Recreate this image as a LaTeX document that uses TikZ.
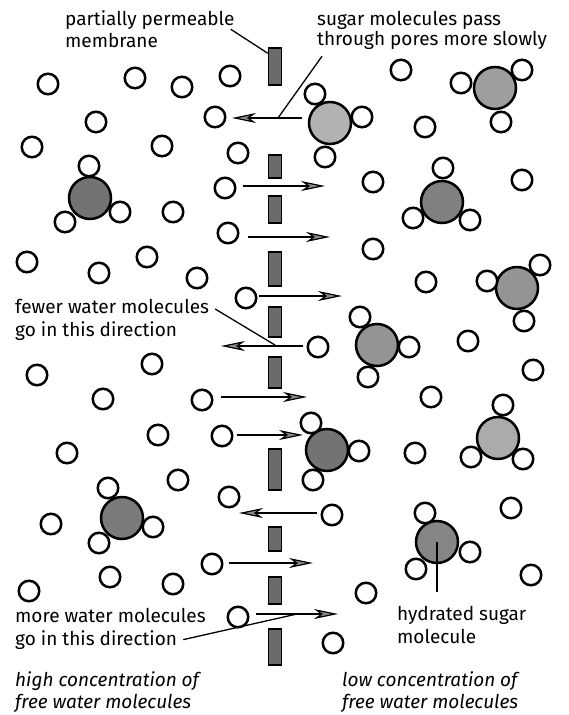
\documentclass[tikz,border=0pt]{standalone}
\usepackage{fontspec}
\setmainfont{Fira Sans}
\usetikzlibrary{arrows.meta,calc}

\tikzset{
  water/.style={circle, draw, line width=2.5pt, fill=white, minimum size=20.5pt, inner sep=0pt},
  sugar/.style={circle, draw, line width=2.5pt, fill=black!#1, minimum size=42pt, inner sep=0pt},
  pore/.style={rectangle, draw, line width=1.5pt, fill=black!58, minimum width=13pt, inner sep=0pt},
  flow/.style={line width=2.5pt, -{Stealth[length=24pt,width=10pt,inset=7pt,fill=black!45,line width=1.2pt]}},
  leader/.style={line width=1.3pt},
  note/.style={anchor=base west, inner sep=0pt, font=\fontsize{19}{22}\selectfont},
  inote/.style={note, font=\fontsize{19}{22}\selectfont\itshape},
}

\begin{document}
\begin{tikzpicture}[x=1pt, y=-1pt]
  \useasboundingbox (0,0) rectangle (569,715);

  % membrane with its pores
  \foreach \y/\h [count=\i] in {66.5/37, 166.5/23, 209.5/27, 269/34, 322/30,
                                372.5/31, 469.5/41, 539/24, 590.5/27, 647/36}
    \node[pore, minimum height=\h pt] (m\i) at (275,\y) {};

  % free water molecules
  \foreach \x/\y [count=\i] in {48/84, 135/78, 182/87, 230/76, 96/122, 215/117,
      32/147, 162/146, 238/153, 173/212, 225/188, 228/233, 401/70, 425/127,
      373/182, 522/180, 27/262, 147/257, 99/273, 197/278, 246/298, 152/364,
      37/375, 103/399, 202/400, 158/435, 222/436, 67/453, 178/480, 373/249,
      426/282, 318/347, 468/341, 533/370, 431/397, 415/453, 229/497, 51/524,
      212/564, 110/577, 173/584, 29/591, 238/617, 332/515, 511/508, 366/593,
      531/575, 333/643}
    \node[water] (w\i) at (\x,\y) {};

  % sugar molecules, each with its shell of three water molecules
  \node[sugar=55] (s1) at (90,198) {};
  \node[water] (s1a) at (89,166) {};
  \node[water] (s1b) at (120,212) {};
  \node[water] (s1c) at (65,222) {};

  \node[sugar=38] (s2) at (495,88) {};
  \node[water] (s2a) at (461,83) {};
  \node[water] (s2b) at (522,70) {};
  \node[water] (s2c) at (501,122) {};

  \node[sugar=30] (s3) at (330,123) {};
  \node[water] (s3a) at (315,94) {};
  \node[water] (s3b) at (362,117) {};
  \node[water] (s3c) at (325,157) {};

  \node[sugar=50] (s4) at (442,202) {};
  \node[water] (s4a) at (443,168) {};
  \node[water] (s4b) at (413,218) {};
  \node[water] (s4c) at (470,220) {};

  \node[sugar=42] (s5) at (517,288) {};
  \node[water] (s5a) at (487,281) {};
  \node[water] (s5b) at (540,265) {};
  \node[water] (s5c) at (524,321) {};

  \node[sugar=42] (s6) at (377,345) {};
  \node[water] (s6a) at (360,317) {};
  \node[water] (s6b) at (409,347) {};
  \node[water] (s6c) at (368,377) {};

  \node[sugar=55] (s7) at (327,450) {};
  \node[water] (s7a) at (311,423) {};
  \node[water] (s7b) at (359,451) {};
  \node[water] (s7c) at (313,480) {};

  \node[sugar=33] (s8) at (498,438) {};
  \node[water] (s8a) at (503,405) {};
  \node[water] (s8b) at (471,457) {};
  \node[water] (s8c) at (523,459) {};

  \node[sugar=52] (s9) at (122,518) {};
  \node[water] (s9a) at (108,488) {};
  \node[water] (s9b) at (153,527) {};
  \node[water] (s9c) at (99,543) {};

  \node[sugar=48] (s10) at (437,542) {};
  \node[water] (s10a) at (425,513) {};
  \node[water] (s10b) at (470,552) {};
  \node[water] (s10c) at (416,569) {};

  % movement through the pores
  \foreach \xs/\xe/\y [count=\i] in {302/232/118, 243/325/186, 248/330/237,
      259/342/296, 303/221/346, 221/307/397, 237/303/435, 317/239/513,
      229/313/563, 256/338/614}
  {
    \coordinate (a\i-s) at (\xs,\y);
    \coordinate (a\i-e) at (\xe,\y);
    \draw[flow] (a\i-s) -- (a\i-e);
  }
  \coordinate (a1-m) at (278,118);
  \coordinate (a5-m) at (275,345);
  \coordinate (a10-m) at (297,614);

  % labels
  \node[note] (mem1) at (65,25) {partially permeable};
  \node[note] (mem2) at (65,47) {membrane};
  \node[note] (sug1) at (317,25) {sugar molecules pass};
  \node[note] (sug2) at (317,45) {through pores more slowly};
  \node[note] (few1) at (15,313) {fewer water molecules};
  \node[note] (few2) at (15,336) {go in this direction};
  \node[note] (more1) at (15,622) {more water molecules};
  \node[note] (more2) at (15,645) {go in this direction};
  \node[note] (hyd1) at (397,620) {hydrated sugar};
  \node[note] (hyd2) at (397,643) {molecule};
  \node[inote] (high1) at (15,686) {high concentration of};
  \node[inote] (high2) at (15,708) {free water molecules};
  \node[inote] (low1) at (342,686) {low concentration of};
  \node[inote] (low2) at (342,708) {free water molecules};

  % leader lines
  \draw[leader] ([xshift=-4pt]mem1.south east) -- ([yshift=-6pt]m1.north west);
  \draw[leader] ([xshift=5pt,yshift=-7pt]sug2.south west) -- (a1-m);
  \draw[leader] ([xshift=6pt,yshift=-3pt]few1.east) -- (a5-m);
  \draw[leader] ([xshift=6pt]more2.east) -- (a10-m);
  \draw[leader] (s10.center) -- ($(s10.center |- hyd1.north)+(0,-14)$);
\end{tikzpicture}
\end{document}
